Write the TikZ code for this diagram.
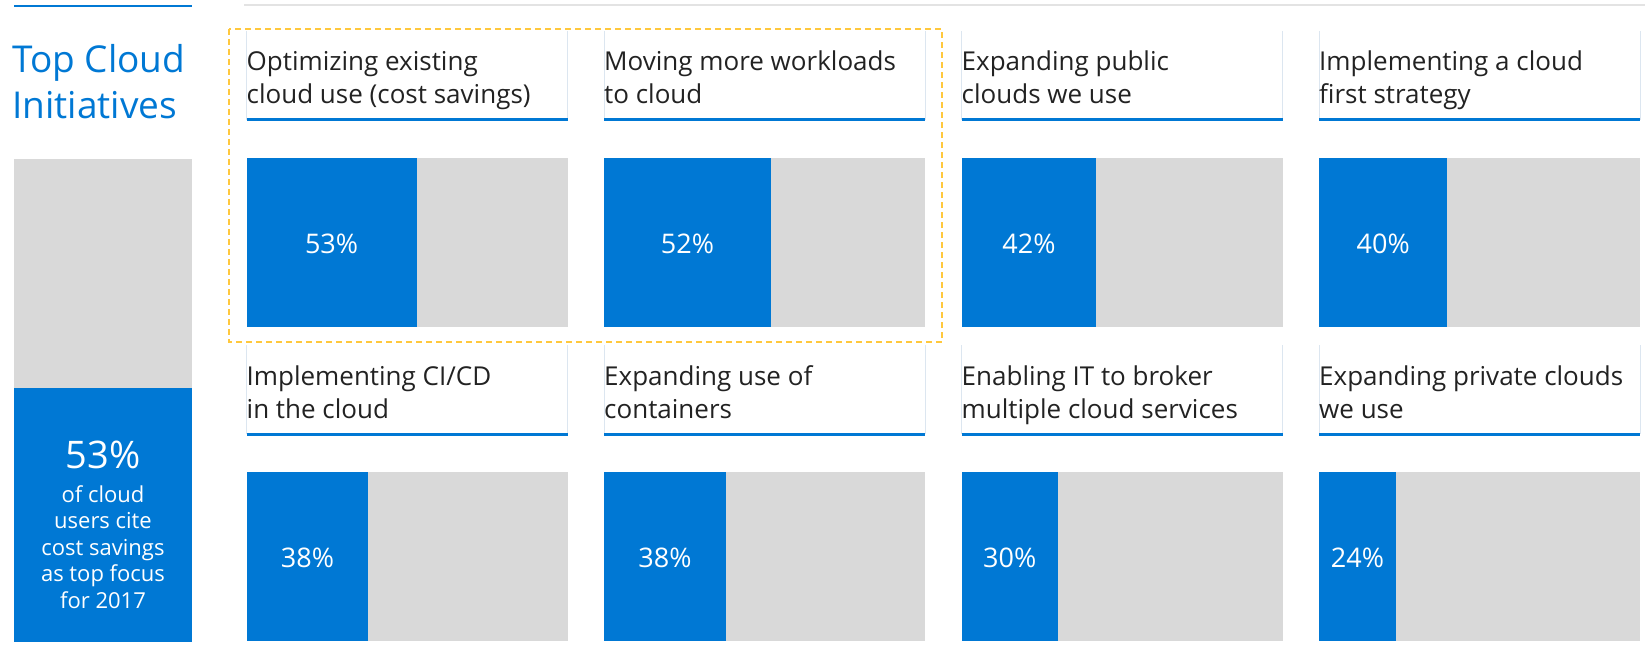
\documentclass[tikz,border=0pt]{standalone}
\usepackage{fontspec}
\setmainfont{Open Sans}
\usepackage{tikz}

\definecolor{msblue}{HTML}{0078D4}
\definecolor{bargray}{HTML}{D9D9D9}
\definecolor{rulegray}{HTML}{E3E3E3}
\definecolor{framegray}{HTML}{DCE6F0}
\definecolor{hilite}{HTML}{FFC83D}
\definecolor{ink}{HTML}{222222}

\tikzset{
  heading/.style={anchor=base west, align=left, inner sep=0pt, text=ink, font=\fontsize{26}{33}\selectfont},
  pct/.style={text=white, inner sep=0pt, font=\fontsize{27}{30}\selectfont},
}

\begin{document}
\begin{tikzpicture}[x=1pt,y=-1pt]
        \useasboundingbox (0,0) rectangle (1645,671);
        %\draw[gray] (0,0) grid[step=100] (1645,671);

        % left panel
        \draw[msblue, line width=2.5pt] (14,6) -- (192,6);
        \node[anchor=base west, align=left, inner sep=0pt, text=msblue, font=\fontsize{37}{46}\selectfont] (T) at (12,119) {Top Cloud\\Initiatives};
        \fill[bargray] (14,159) rectangle (192,388);
        \fill[msblue] (14,388) rectangle (192,642);
        \node[text=white, font=\fontsize{38}{44}\selectfont] (big) at (103,455) {53\%};
        \node[align=center, text=white, font=\fontsize{22}{26.5}\selectfont] (cite) at (103,547) {of cloud\\users cite\\cost savings\\as top focus\\for 2017};

        % top rule
        \draw[rulegray, line width=2.5pt] (244,5) -- (1645,5);

        % the eight initiatives
        \foreach \c/\r/\p/\txt in {0/0/53/{Optimizing existing\\cloud use (cost savings)},
                                  1/0/52/{Moving more workloads\\to cloud},
                                  2/0/42/{Expanding public\\clouds we use},
                                  3/0/40/{Implementing a cloud\\first strategy},
                                  0/1/38/{Implementing CI/CD\\in the cloud},
                                  1/1/38/{Expanding use of\\containers},
                                  2/1/30/{Enabling IT to broker\\multiple cloud services},
                                  3/1/24/{Expanding private clouds\\we use}} {
            \pgfmathsetmacro\xl{246.5+357.5*\c}
            \pgfmathsetmacro\xr{\xl+321}
            \pgfmathsetmacro\xb{\xl+3.21*\p}
            \pgfmathsetmacro\yo{314*\r}
            \draw[framegray] (\xl,31+\yo) -- (\xl,120+\yo) (\xr,31+\yo) -- (\xr,120+\yo);
            \draw[msblue, line width=3pt] (\xl,120+\yo) -- (\xr,120+\yo);
            \node[heading] (h\c\r) at (\xl,104+\yo) {\txt};
            \fill[bargray] (\xb,158+\yo) rectangle (\xr,327+\yo);
            \fill[msblue] (\xl,158+\yo) rectangle (\xb,327+\yo);
            \node[pct] (p\c\r) at ({(\xl+\xb)/2},244+\yo) {\p\%};
        }

        % highlight round the first two
        \draw[hilite, line width=1.5pt, dash pattern=on 6pt off 4pt] (229,29) rectangle (942,342);
    \end{tikzpicture}
\end{document}
